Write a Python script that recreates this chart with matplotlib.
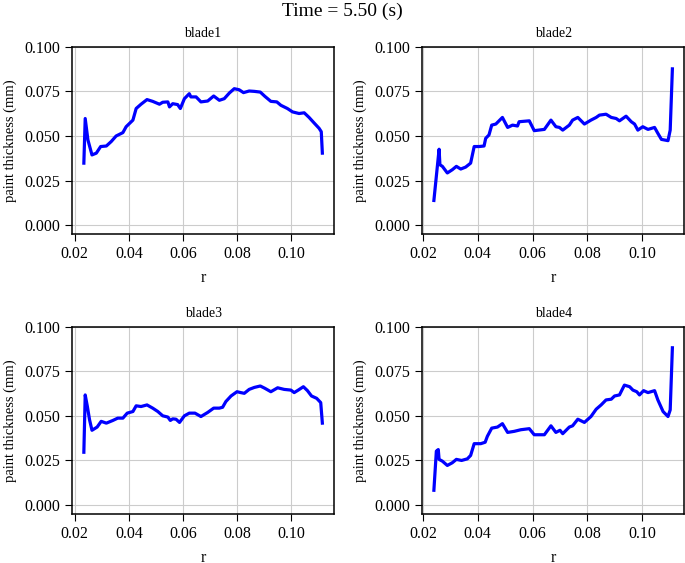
import matplotlib
matplotlib.use("Agg")
import matplotlib.pyplot as plt

# ==========================================
# Datos: espesor de pintura por pala (t = 5.50 s)
# ==========================================
r_b1 = [0.0234, 0.0239, 0.0249, 0.0264, 0.0280, 0.0296, 0.0317, 0.0335, 0.0353, 0.0378,
        0.0390, 0.0415, 0.0427, 0.0445, 0.0467, 0.0488, 0.0513, 0.0525, 0.0544, 0.0550,
        0.0562, 0.0580, 0.0590, 0.0605, 0.0623, 0.0629, 0.0648, 0.0666, 0.0691, 0.0713,
        0.0734, 0.0752, 0.0771, 0.0789, 0.0807, 0.0823, 0.0844, 0.0863, 0.0885, 0.0902,
        0.0924, 0.0946, 0.0961, 0.0985, 0.1004, 0.1028, 0.1047, 0.1065, 0.1083, 0.1102,
        0.1110, 0.1114]
t_b1 = [0.0348, 0.0598, 0.0478, 0.0394, 0.0404, 0.0441, 0.0444, 0.0469, 0.0500, 0.0519,
        0.0552, 0.0589, 0.0654, 0.0678, 0.0704, 0.0694, 0.0678, 0.0689, 0.0691, 0.0663,
        0.0681, 0.0676, 0.0654, 0.0709, 0.0737, 0.0719, 0.0719, 0.0691, 0.0696, 0.0724,
        0.0700, 0.0709, 0.0741, 0.0765, 0.0759, 0.0743, 0.0752, 0.0750, 0.0746, 0.0722,
        0.0694, 0.0691, 0.0672, 0.0654, 0.0635, 0.0626, 0.0630, 0.0604, 0.0574, 0.0543,
        0.0524, 0.0404]

r_b2 = [0.0240, 0.0259, 0.0262, 0.0271, 0.0289, 0.0307, 0.0322, 0.0338, 0.0356, 0.0374,
        0.0387, 0.0405, 0.0423, 0.0429, 0.0441, 0.0451, 0.0466, 0.0490, 0.0509, 0.0527,
        0.0545, 0.0551, 0.0588, 0.0606, 0.0643, 0.0667, 0.0685, 0.0698, 0.0710, 0.0734,
        0.0746, 0.0765, 0.0789, 0.0813, 0.0832, 0.0844, 0.0868, 0.0887, 0.0905, 0.0917,
        0.0941, 0.0960, 0.0972, 0.0984, 0.1002, 0.1021, 0.1045, 0.1057, 0.1070, 0.1094,
        0.1102, 0.1110]
t_b2 = [0.0139, 0.0426, 0.0339, 0.0330, 0.0293, 0.0311, 0.0330, 0.0315, 0.0326, 0.0348,
        0.0441, 0.0441, 0.0444, 0.0487, 0.0506, 0.0561, 0.0567, 0.0604, 0.0548, 0.0561,
        0.0556, 0.0580, 0.0585, 0.0530, 0.0537, 0.0589, 0.0552, 0.0548, 0.0533, 0.0561,
        0.0589, 0.0604, 0.0567, 0.0589, 0.0604, 0.0617, 0.0622, 0.0604, 0.0598, 0.0585,
        0.0611, 0.0580, 0.0567, 0.0533, 0.0552, 0.0537, 0.0548, 0.0515, 0.0481, 0.0474,
        0.0533, 0.0876]

r_b3 = [0.0234, 0.0239, 0.0247, 0.0255, 0.0264, 0.0283, 0.0298, 0.0317, 0.0341, 0.0359,
        0.0378, 0.0394, 0.0415, 0.0427, 0.0445, 0.0467, 0.0488, 0.0507, 0.0525, 0.0544,
        0.0553, 0.0562, 0.0574, 0.0587, 0.0605, 0.0623, 0.0644, 0.0666, 0.0691, 0.0713,
        0.0734, 0.0746, 0.0758, 0.0777, 0.0799, 0.0813, 0.0826, 0.0844, 0.0863, 0.0885,
        0.0902, 0.0924, 0.0949, 0.0973, 0.0998, 0.1010, 0.1025, 0.1044, 0.1059, 0.1074,
        0.1093, 0.1108, 0.1114]
t_b3 = [0.0296, 0.0617, 0.0552, 0.0478, 0.0419, 0.0437, 0.0469, 0.0459, 0.0474, 0.0487,
        0.0487, 0.0515, 0.0524, 0.0556, 0.0552, 0.0561, 0.0543, 0.0524, 0.0500, 0.0493,
        0.0474, 0.0483, 0.0481, 0.0463, 0.0500, 0.0515, 0.0515, 0.0496, 0.0519, 0.0543,
        0.0543, 0.0548, 0.0580, 0.0611, 0.0635, 0.0630, 0.0626, 0.0648, 0.0659, 0.0667,
        0.0654, 0.0635, 0.0657, 0.0648, 0.0644, 0.0630, 0.0644, 0.0663, 0.0641, 0.0611,
        0.0598, 0.0574, 0.0459]

r_b4 = [0.0240, 0.0249, 0.0256, 0.0259, 0.0271, 0.0289, 0.0307, 0.0322, 0.0341, 0.0362,
        0.0374, 0.0387, 0.0411, 0.0427, 0.0435, 0.0451, 0.0472, 0.0490, 0.0509, 0.0533,
        0.0557, 0.0588, 0.0606, 0.0643, 0.0667, 0.0685, 0.0700, 0.0710, 0.0734, 0.0746,
        0.0765, 0.0789, 0.0813, 0.0832, 0.0850, 0.0868, 0.0887, 0.0899, 0.0917, 0.0935,
        0.0954, 0.0966, 0.0980, 0.0990, 0.1005, 0.1021, 0.1045, 0.1057, 0.1076, 0.1094,
        0.1102, 0.1110]
t_b4 = [0.0083, 0.0302, 0.0311, 0.0256, 0.0246, 0.0222, 0.0237, 0.0256, 0.0250, 0.0259,
        0.0278, 0.0344, 0.0344, 0.0352, 0.0385, 0.0431, 0.0437, 0.0456, 0.0407, 0.0413,
        0.0422, 0.0428, 0.0394, 0.0394, 0.0444, 0.0407, 0.0419, 0.0400, 0.0437, 0.0444,
        0.0481, 0.0463, 0.0496, 0.0537, 0.0561, 0.0589, 0.0593, 0.0611, 0.0617, 0.0672,
        0.0663, 0.0644, 0.0635, 0.0617, 0.0641, 0.0630, 0.0641, 0.0589, 0.0524, 0.0496,
        0.0533, 0.0881]

titulos = ['blade1', 'blade2', 'blade3', 'blade4']
series = [(r_b1, t_b1), (r_b2, t_b2), (r_b3, t_b3), (r_b4, t_b4)]

# ==========================================
# Figura
# ==========================================
plt.rcParams['font.family'] = ['Liberation Serif', 'DejaVu Serif']
fig = plt.figure(figsize=(6.85, 5.63), dpi=100)

# posiciones [izq, abajo, ancho, alto] en fracción de figura
pos = [[0.105, 0.584, 0.383, 0.333],
       [0.616, 0.584, 0.383, 0.333],
       [0.105, 0.087, 0.383, 0.333],
       [0.616, 0.087, 0.383, 0.333]]

for k in range(4):
    ax = fig.add_axes(pos[k])
    r, t = series[k]
    ax.plot(r, t, color='#0000ff', linewidth=2.3)
    ax.set_ylim(-0.005, 0.1)
    ax.set_yticks([0.0, 0.025, 0.05, 0.075, 0.1])
    ax.set_xticks([0.02, 0.04, 0.06, 0.08, 0.10])
    ax.set_xticklabels(['0.02', '0.04', '0.06', '0.08', '0.10'])
    ax.grid(True, color='#cccccc', linewidth=0.8)
    ax.set_axisbelow(True)
    ax.tick_params(labelsize=11.5, length=5)
    for s in ax.spines.values():
        s.set_linewidth(1.1)
    ax.set_title(titulos[k], fontsize=10, pad=7)
    ax.set_xlabel('r', fontsize=11.5, labelpad=6)
    ax.set_ylabel('paint thickness (mm)', fontsize=10.5, labelpad=5)

fig.suptitle('Time = 5.50 (s)', fontsize=14, y=0.995)

plt.savefig('out.png', dpi=100)
